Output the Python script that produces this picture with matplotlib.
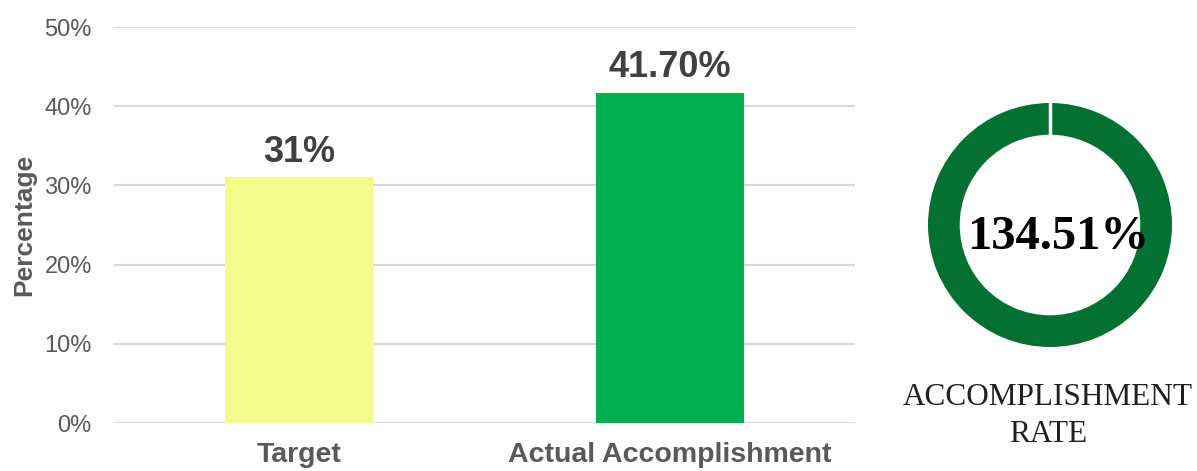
import matplotlib.pyplot as plt
from matplotlib.ticker import PercentFormatter

categories = ["Target", "Actual Accomplishment"]
values = [31, 41.7]
value_labels = ["31%", "41.70%"]
bar_colors = ["#F3FD8B", "#00B050"]
yticks = [0, 10, 20, 30, 40, 50]
rate = 134.51
rate_label = "134.51%"

plt.rcParams['font.family'] = ['Liberation Sans', 'DejaVu Sans']

fig = plt.figure(figsize=(11.97, 4.71), dpi=100)

# bar chart
ax = fig.add_axes([114/1197, 1-423/471, 741/1197, 396/471])
x = range(len(categories))
bars = ax.bar(x, values, width=0.4, color=bar_colors, zorder=3)
for b, lab in zip(bars, value_labels):
    ax.text(b.get_x() + b.get_width()/2, b.get_height() + 1.0, lab,
            ha='center', va='bottom', fontsize=26, fontweight='bold', color='#404040')
ax.set_xlim(-0.5, 1.5)
ax.set_ylim(0, 50)
ax.set_yticks(yticks)
ax.yaxis.set_major_formatter(PercentFormatter(decimals=0))
ax.set_xticks(list(x))
ax.set_xticklabels(categories, fontsize=20.5, fontweight='bold', color='#595959')
ax.tick_params(axis='y', labelsize=17, labelcolor='#595959', length=0, pad=16)
ax.tick_params(axis='x', length=0, pad=14)
ax.grid(axis='y', color='#D9D9D9', linewidth=1.5, zorder=0)
for s in ax.spines.values():
    s.set_visible(False)
ax.set_ylabel("Percentage", fontsize=19, fontweight='bold', color='#595959', labelpad=6)

# donut for accomplishment rate
ax2 = fig.add_axes([(1050-122)/1197, (471-225-122)/471, 244/1197, 244/471])
ax2.pie([min(rate, 100)], colors=['#047132'], startangle=90, counterclock=False,
        radius=1, wedgeprops=dict(width=0.26, linewidth=0))
ax2.axvline(0, ymin=0.55, ymax=1.0, color='white', linewidth=2.5)
ax2.set_xlim(-1, 1)
ax2.set_ylim(-1, 1)
ax2.text(0.07, -0.1, rate_label, ha='center', va='center', fontsize=35,
         fontweight='bold', family=['Liberation Serif', 'DejaVu Serif'], color='black')

fig.text(1048/1197, 1-416/471, "ACCOMPLISHMENT\nRATE", ha='center', va='center',
         fontsize=22.5, family=['Liberation Serif', 'DejaVu Serif'], color='#231F20',
         linespacing=1.4)

fig.savefig("out.png", dpi=100)
